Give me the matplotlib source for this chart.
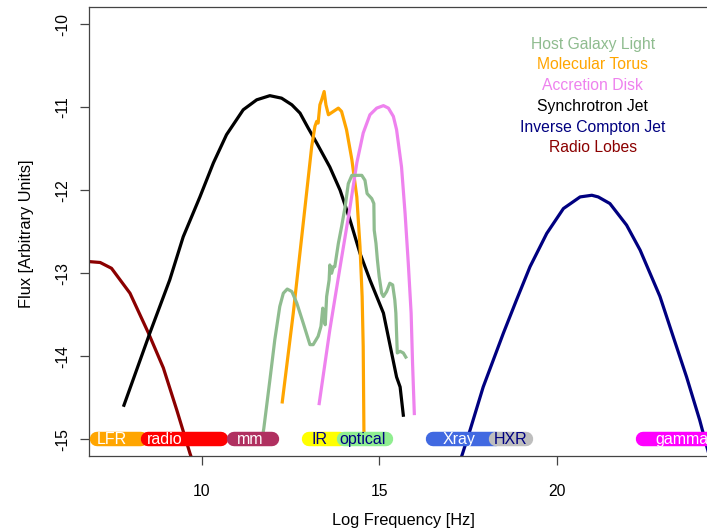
import numpy as np
import matplotlib.pyplot as plt

plt.rcParams['font.family'] = ['Liberation Sans', 'DejaVu Sans']
plt.rcParams['axes.unicode_minus'] = False

# Radio lobes
lobes_x = [6.5, 6.85, 7.14, 7.46, 7.98, 8.50, 8.92, 9.30, 9.67, 9.85]
lobes_y = [-12.86, -12.86, -12.87, -12.94, -13.24, -13.72, -14.14, -14.65, -15.17, -15.40]

# Synchrotron jet
sync_x = [7.81, 8.54, 9.10, 9.48, 9.95, 10.33, 10.70, 11.17, 11.55, 11.92, 12.25, 12.54,
          12.77, 13.00, 13.24, 13.61, 13.90, 14.18, 14.46, 14.74, 15.12, 15.49, 15.59, 15.68]
sync_y = [-14.59, -13.72, -13.08, -12.56, -12.08, -11.67, -11.33, -11.03, -10.91, -10.86, -10.89, -10.97,
          -11.07, -11.25, -11.43, -11.72, -12.00, -12.36, -12.76, -13.08, -13.48, -14.25, -14.37, -14.71]

# Molecular torus
torus_x = [12.27, 12.58, 12.86, 13.10, 13.19, 13.24, 13.28, 13.33, 13.38, 13.45, 13.50, 13.57,
           13.71, 13.85, 13.94, 14.08, 14.23, 14.37, 14.46, 14.52, 14.55, 14.57, 14.58]
torus_y = [-14.55, -13.48, -12.40, -11.47, -11.23, -11.17, -11.19, -10.97, -10.91, -10.81, -10.97, -11.09,
           -11.05, -11.01, -11.05, -11.27, -11.63, -12.08, -12.68, -13.28, -13.88, -14.89, -15.05]

# Accretion disk
disk_x = [13.31, 13.61, 13.90, 14.18, 14.37, 14.55, 14.74, 14.93, 15.12, 15.26, 15.40, 15.49,
          15.63, 15.73, 15.82, 15.90, 15.94, 15.99]
disk_y = [-14.57, -13.68, -12.92, -12.20, -11.67, -11.31, -11.09, -11.01, -10.98, -11.01, -11.11, -11.27,
          -11.72, -12.28, -12.88, -13.48, -14.08, -14.69]

# Host galaxy light
host_x = [11.68, 11.75, 11.92, 12.06, 12.20, 12.30, 12.41, 12.54, 12.68, 12.86, 13.05, 13.14, 13.28,
          13.36, 13.41, 13.45, 13.48, 13.52, 13.59, 13.61, 13.66, 13.71, 13.75, 13.85, 13.94, 14.04,
          14.13, 14.23, 14.37, 14.51, 14.60, 14.66, 14.79, 14.85, 14.86, 14.91, 14.95, 15.00, 15.07,
          15.12, 15.21, 15.30, 15.38, 15.44, 15.47, 15.49, 15.51, 15.59, 15.68, 15.75]
host_y = [-15.05, -14.87, -14.29, -13.80, -13.40, -13.24, -13.19, -13.22, -13.36, -13.60, -13.86, -13.86, -13.76,
          -13.64, -13.42, -13.56, -13.62, -13.28, -13.08, -12.90, -13.00, -12.92, -12.92, -12.64, -12.44, -12.20,
          -11.92, -11.82, -11.82, -11.82, -11.88, -12.04, -12.10, -12.16, -12.48, -12.64, -12.84, -13.04, -13.24,
          -13.28, -13.22, -13.12, -13.14, -13.32, -13.48, -13.72, -13.96, -13.94, -13.96, -14.01]

# Inverse Compton jet
ic_x = [17.20, 17.32, 17.56, 17.93, 18.50, 18.87, 19.25, 19.72, 20.19, 20.66, 20.99, 21.17, 21.50,
        21.97, 22.35, 22.91, 23.28, 23.66, 24.03, 24.23, 24.40]
ic_y = [-15.40, -15.21, -14.89, -14.37, -13.72, -13.32, -12.92, -12.52, -12.22, -12.08, -12.06, -12.08, -12.16,
        -12.42, -12.72, -13.28, -13.76, -14.25, -14.77, -15.09, -15.35]

# Frequency bands along the bottom
band_names = ['LFR', 'radio', 'mm', 'IR', 'optical', 'Xray', 'HXR', 'gamma']
band_start = [7.04, 8.49, 10.92, 13.03, 14.01, 16.52, 18.30, 22.44]
band_end = [8.30, 10.55, 11.97, 13.90, 15.19, 18.30, 19.13, 26.0]
band_label_x = [7.48, 8.97, 11.37, 13.32, 14.52, 17.24, 18.71, 23.54]
band_colors = ['#FFA500', '#FF0000', '#B03060', '#FFFF00', '#90EE90', '#4169E1', '#BEBEBE', '#FF00FF']
band_text = ['white', 'white', 'white', '#000080', '#000080', 'white', '#000080', 'white']
band_level = -15

legend_names = ['Host Galaxy Light', 'Molecular Torus', 'Accretion Disk',
                'Synchrotron Jet', 'Inverse Compton Jet', 'Radio Lobes']
legend_colors = ['#8FBC8F', '#FFA500', '#EE82EE', '#000000', '#000080', '#8B0000']

fig = plt.figure(figsize=(7.07, 5.31), dpi=100)
ax = fig.add_axes([0.1263, 0.1418, 0.8949, 0.8445])

lw = 2.3
ax.plot(lobes_x, lobes_y, color='#8B0000', lw=lw)
ax.plot(sync_x, sync_y, color='black', lw=lw)
ax.plot(torus_x, torus_y, color='#FFA500', lw=lw)
ax.plot(disk_x, disk_y, color='#EE82EE', lw=lw)
ax.plot(host_x, host_y, color='#8FBC8F', lw=lw)
ax.plot(ic_x, ic_y, color='#000080', lw=lw)

# bands drawn as thick round-capped segments, on top of the curves
for i in range(len(band_names)):
    ax.plot([band_start[i], band_end[i]], [band_level, band_level], color=band_colors[i],
            lw=10.4, solid_capstyle='round', zorder=5)
    ax.text(band_label_x[i], band_level, band_names[i], color=band_text[i], fontsize=11.5,
            ha='center', va='center', zorder=6)

# legend as centred coloured text
for i in range(len(legend_names)):
    ax.text(21.02, -10.24 - 0.25 * i, legend_names[i], color=legend_colors[i], fontsize=11.3,
            ha='center', va='center')

ax.set_xlim(6.834, 24.657)
ax.set_ylim(-15.198, -9.795)
ax.set_xticks([10, 15, 20])
ax.set_yticks([-15, -14, -13, -12, -11, -10])

for s in ax.spines.values():
    s.set_color('#444444')
    s.set_linewidth(0.9)
ax.tick_params(direction='out', length=6.5, width=0.9, color='#444444', labelsize=11.3)
ax.tick_params(axis='x', pad=14)
ax.tick_params(axis='y', pad=7, labelrotation=90)
for lab in ax.get_yticklabels():
    lab.set_va('center')

ax.set_xlabel('Log Frequency [Hz]', fontsize=11.8)
ax.set_ylabel('Flux [Arbitrary Units]', fontsize=11.8)
ax.xaxis.set_label_coords(0.497, -0.1456)
ax.xaxis.label.set_va('center')
ax.yaxis.set_label_coords(-0.100, 0.494)
ax.yaxis.label.set_va('center')

fig.savefig('out.png', dpi=100)
